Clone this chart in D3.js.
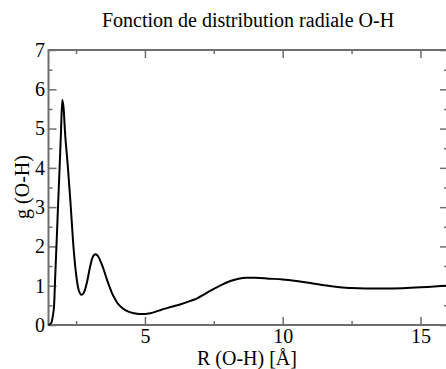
<!DOCTYPE html>
<html>
<head>
<meta charset="utf-8">
<script src="https://cdn.jsdelivr.net/npm/d3@7"></script>
<style>
html,body{margin:0;padding:0;background:#fff;}
svg{display:block;}
text{font-family:"Liberation Serif","Times New Roman",serif !important;fill:#000;}
</style>
</head>
<body>
<svg id="chart" width="446" height="369"></svg>
<script>
const title = "Fonction de distribution radiale O-H";
const xLabel = "R (O-H) [Å]";
const yLabel = "g (O-H)";
const xTicks = [5, 10, 15];
const yTicks = [0, 1, 2, 3, 4, 5, 6, 7];
const rValues = [1.5,1.6,1.65,1.7,1.75,1.8,1.85,1.9,1.95,2.0,2.05,2.1,2.2,2.3,2.4,2.5,2.6,2.7,2.8,2.9,3.0,3.1,3.2,3.3,3.4,3.5,3.6,3.7,3.8,3.9,4.0,4.2,4.4,4.6,4.8,5.0,5.2,5.4,5.6,5.8,6.0,6.3,6.6,6.9,7.2,7.5,7.8,8.1,8.4,8.7,9.0,9.5,10.0,10.5,11.0,11.5,12.0,12.5,13.0,13.5,14.0,14.5,15.0,15.5,16.0];
const gValues = [0,0.05,0.2,0.47,1.35,2.2,3.1,3.95,4.85,5.73,5.5,4.9,4.05,3.1,2.05,1.3,0.88,0.77,0.85,1.1,1.45,1.72,1.8,1.75,1.6,1.42,1.2,1.0,0.82,0.68,0.56,0.42,0.34,0.3,0.28,0.28,0.3,0.34,0.39,0.43,0.47,0.53,0.6,0.68,0.8,0.92,1.03,1.12,1.18,1.2,1.2,1.18,1.16,1.12,1.07,1.01,0.97,0.94,0.93,0.93,0.93,0.94,0.96,0.98,1.0];

const svg = d3.select("#chart");
const L = 48.5, R = 448, T = 50, B = 325;
const x = d3.scaleLinear().domain([1.5, 16]).range([L, R]);
const y = d3.scaleLinear().domain([0, 7]).range([B, T]);
const axisColor = "#6e6e6e";
const fontFam = "'Liberation Serif', 'Times New Roman', serif";

const xMinor = d3.range(2.5, 16, 2.5).filter(v => !xTicks.includes(v));
const yMinor = d3.range(0.5, 7, 1);

// frame
svg.append("rect").attr("x", L).attr("y", T).attr("width", R - L).attr("height", B - T)
  .attr("fill", "none").attr("stroke", axisColor).attr("stroke-width", 2);

function tickGroup(axisGen, transform) {
  const g = svg.append("g").attr("transform", transform).call(axisGen)
    .attr("font-family", fontFam).attr("font-size", 20);
  g.select(".domain").remove();
  g.selectAll("line").attr("stroke", axisColor).attr("stroke-width", 1.5);
  g.selectAll("text").style("font-family", fontFam).style("font-size", "20px").attr("fill", "#000");
  return g;
}
// bottom
tickGroup(d3.axisBottom(x).tickValues(xTicks).tickSize(-8).tickPadding(4).tickFormat(d3.format("d")), `translate(0,${B})`);
tickGroup(d3.axisBottom(x).tickValues(xMinor).tickSize(-4).tickFormat(""), `translate(0,${B})`);
// top
tickGroup(d3.axisTop(x).tickValues(xTicks).tickSize(-8).tickFormat(""), `translate(0,${T})`);
tickGroup(d3.axisTop(x).tickValues(xMinor).tickSize(-4).tickFormat(""), `translate(0,${T})`);
// left
tickGroup(d3.axisLeft(y).tickValues(yTicks).tickSize(-8).tickPadding(3.5).tickFormat(d3.format("d")), `translate(${L},0)`);
tickGroup(d3.axisLeft(y).tickValues(yMinor).tickSize(-4).tickFormat(""), `translate(${L},0)`);
// right
tickGroup(d3.axisRight(y).tickValues(yTicks).tickSize(-8).tickFormat(""), `translate(${R},0)`);
tickGroup(d3.axisRight(y).tickValues(yMinor).tickSize(-4).tickFormat(""), `translate(${R},0)`);

// curve
const data = rValues.map((r, i) => ({r, g: gValues[i]}));
svg.append("path").datum(data)
  .attr("fill", "none").attr("stroke", "#000").attr("stroke-width", 2)
  .attr("d", d3.line().x(d => x(d.r)).y(d => y(d.g)).curve(d3.curveMonotoneX));

// titles
svg.append("text").attr("x", 248).attr("y", 27).attr("text-anchor", "middle")
  .attr("font-size", 20).text(title);
svg.append("text").attr("x", 247).attr("y", 365).attr("text-anchor", "middle")
  .attr("font-size", 20).text(xLabel);
svg.append("text").attr("transform", "translate(29,187) rotate(-90)").attr("text-anchor", "middle")
  .attr("font-size", 20).text(yLabel);
</script>
</body>
</html>
